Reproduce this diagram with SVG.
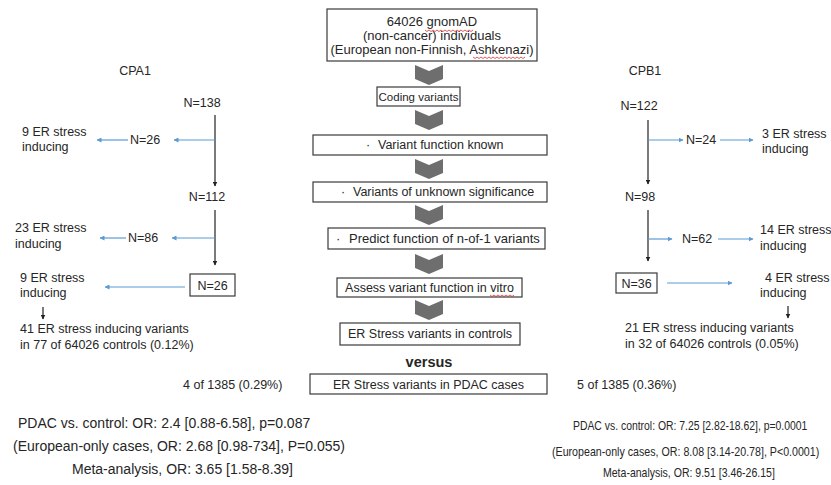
<svg xmlns="http://www.w3.org/2000/svg" width="831" height="485" viewBox="0 0 831 485">
<style>
text{font-family:"Liberation Sans",Arial,sans-serif;fill:#262626;font-size:12.5px}
.c{text-anchor:middle}
.box{fill:#fff;stroke:#3a3a3a;stroke-width:1.2}
.chev{fill:#6e6e6e}
.blk{stroke:#222;stroke-width:1.2;fill:none}
.blu{stroke:#5b9bd5;stroke-width:1.2;fill:none}
.big{font-size:14px}
.rs{font-size:13px}
.sq{stroke:#e03030;stroke-width:0.8;fill:none}
</style>
<defs>
<marker id="ab" viewBox="0 0 10 10" refX="9" refY="5" markerWidth="5" markerHeight="5" orient="auto" markerUnits="userSpaceOnUse"><path d="M0,0 L10,5 L0,10 z" fill="#222"/></marker>
<marker id="au" viewBox="0 0 10 10" refX="9" refY="5" markerWidth="5" markerHeight="5" orient="auto" markerUnits="userSpaceOnUse"><path d="M0,0 L10,5 L0,10 z" fill="#5b9bd5"/></marker>
<path id="chevron" d="M0,0 L14,6 L28,0 L28,14 L14,20 L0,14 z"/>
</defs>
<rect width="831" height="485" fill="#fff"/>

<g id="center-flow">
<g id="n-gnomad">
<rect class="box" x="327" y="9" width="210" height="52"/>
<text class="c" x="432" y="26" style="font-size:13px">64026 gnomAD</text>
<text class="c" x="432" y="40" style="font-size:13px">(non-cancer) individuals</text>
<text class="c" x="432" y="54" style="font-size:13px">(European non-Finnish, Ashkenazi)</text>
<path class="sq" d="M425,30 l2,1.5 l2,-1.5 l2,1.5 l2,-1.5 l2,1.5 l2,-1.5 l2,1.5 l2,-1.5 l2,1.5 l2,-1.5 l2,1.5 l2,-1.5 l2,1.5 l2,-1.5 l2,1.5 l2,-1.5 l2,1.5 l2,-1.5 l2,1.5 l2,-1.5 l2,1.5 l2,-1.5 l2,1.5 l2,-1.5"/>
<path class="sq" d="M473,57 l2,1.5 l2,-1.5 l2,1.5 l2,-1.5 l2,1.5 l2,-1.5 l2,1.5 l2,-1.5 l2,1.5 l2,-1.5 l2,1.5 l2,-1.5 l2,1.5 l2,-1.5 l2,1.5 l2,-1.5 l2,1.5 l2,-1.5 l2,1.5 l2,-1.5 l2,1.5 l2,-1.5 l2,1.5 l2,-1.5 l2,1.5 l2,-1.5"/>
</g>
<g id="n-coding">
<rect class="box" x="377" y="87" width="83" height="19"/>
<text class="c" x="418.5" y="101" style="font-size:11.5px">Coding variants</text>
</g>
<g id="n-known">
<rect class="box" x="313" y="135" width="234" height="20"/>
<text y="149"><tspan x="366">·</tspan><tspan x="378">Variant function known</tspan></text>
</g>
<g id="n-vus">
<rect class="box" x="313" y="182" width="234" height="20"/>
<text y="196"><tspan x="341">·</tspan><tspan x="353">Variants of unknown significance</tspan></text>
</g>
<g id="n-predict">
<rect class="box" x="328" y="228" width="217" height="21"/>
<text y="243" style="font-size:13px"><tspan x="336">·</tspan><tspan x="349">Predict function of n-of-1 variants</tspan></text>
</g>
<g id="n-assess">
<rect class="box" x="337" y="278" width="185" height="19"/>
<text class="c" x="429.5" y="292">Assess variant function in vitro</text>
<path class="sq" d="M490,295 l2,1.5 l2,-1.5 l2,1.5 l2,-1.5 l2,1.5 l2,-1.5 l2,1.5 l2,-1.5 l2,1.5 l2,-1.5 l2,1.5 l2,-1.5"/>
</g>
<g id="n-controls">
<rect class="box" x="340" y="323" width="180" height="22"/>
<text class="c" x="430" y="338">ER Stress variants in controls</text>
</g>
<g id="n-versus">
<text class="c" x="429" y="367" style="font-size:14.5px;font-weight:bold">versus</text>
</g>
<g id="n-pdac">
<rect class="box" x="310" y="374" width="237" height="20"/>
<text class="c" x="428.5" y="389">ER Stress variants in PDAC cases</text>
</g>
</g>

<g id="chevrons">
<use href="#chevron" class="chev" x="415" y="65"/>
<use href="#chevron" class="chev" x="415" y="110"/>
<use href="#chevron" class="chev" x="415" y="159"/>
<use href="#chevron" class="chev" x="415" y="205"/>
<use href="#chevron" class="chev" x="415" y="254"/>
<use href="#chevron" class="chev" x="415" y="300"/>
</g>

<g id="cpa1">
<text id="t-cpa1" class="c" x="135" y="75">CPA1</text>
<text id="t-n138" class="c" x="202" y="107">N=138</text>
<text id="t-n26a" x="130" y="144">N=26</text>
<text id="t-9a" x="22"><tspan x="22" y="136">9 ER stress</tspan><tspan x="22" y="151">inducing</tspan></text>
<text id="t-n112" class="c" x="207" y="201">N=112</text>
<text id="t-n86" x="128" y="242">N=86</text>
<text id="t-23" x="15"><tspan x="15" y="232">23 ER stress</tspan><tspan x="15" y="248">inducing</tspan></text>
<g id="n-n26b">
<rect class="box" x="190" y="274" width="45" height="22"/>
<text class="c" x="212.5" y="290">N=26</text>
</g>
<text id="t-9b" x="20"><tspan x="20" y="282">9 ER stress</tspan><tspan x="20" y="297">inducing</tspan></text>
<text id="t-41" x="20"><tspan x="20" y="333">41 ER stress inducing variants</tspan><tspan x="20" y="349">in 77 of 64026 controls (0.12%)</tspan></text>
<text id="t-4of" x="183" y="389">4 of 1385 (0.29%)</text>
</g>

<g id="cpb1">
<text id="t-cpb1" class="c" x="645" y="75">CPB1</text>
<text id="t-n122" class="c" x="639" y="110">N=122</text>
<text id="t-n24" x="686" y="144">N=24</text>
<text id="t-3" x="762"><tspan x="762" y="138">3 ER stress</tspan><tspan x="762" y="153">inducing</tspan></text>
<text id="t-n98" class="c" x="640" y="201">N=98</text>
<text id="t-n62" x="682" y="243">N=62</text>
<text id="t-14" x="760"><tspan x="760" y="234">14 ER stress</tspan><tspan x="760" y="250">inducing</tspan></text>
<g id="n-n36">
<rect class="box" x="616" y="273" width="41" height="20"/>
<text class="c" x="636.5" y="288">N=36</text>
</g>
<text id="t-4b" x="765"><tspan x="765" y="282">4 ER stress</tspan><tspan x="760" y="297">inducing</tspan></text>
<text id="t-21" x="625"><tspan x="625" y="332">21 ER stress inducing variants</tspan><tspan x="625" y="348">in 32 of 64026 controls (0.05%)</tspan></text>
<text id="t-5of" x="577" y="389">5 of 1385 (0.36%)</text>
</g>

<g id="connectors">
<line class="blk" x1="215" y1="115" x2="215" y2="186" marker-end="url(#ab)"/>
<line class="blu" x1="215" y1="140" x2="174" y2="140" marker-end="url(#au)"/>
<line class="blu" x1="128" y1="140" x2="97" y2="140" marker-end="url(#au)"/>
<line class="blk" x1="215" y1="210" x2="215" y2="265" marker-end="url(#ab)"/>
<line class="blu" x1="215" y1="238" x2="172" y2="238" marker-end="url(#au)"/>
<line class="blu" x1="126" y1="238" x2="100" y2="238" marker-end="url(#au)"/>
<line class="blu" x1="185" y1="287" x2="105" y2="287" marker-end="url(#au)"/>
<line class="blk" x1="43" y1="307" x2="43" y2="319" marker-end="url(#ab)"/>
<line class="blk" x1="648" y1="120" x2="648" y2="184" marker-end="url(#ab)"/>
<line class="blu" x1="648" y1="140" x2="683" y2="140" marker-end="url(#au)"/>
<line class="blu" x1="720" y1="140" x2="753" y2="140" marker-end="url(#au)"/>
<line class="blk" x1="648" y1="210" x2="648" y2="261" marker-end="url(#ab)"/>
<line class="blu" x1="648" y1="239" x2="672" y2="239" marker-end="url(#au)"/>
<line class="blu" x1="718" y1="239" x2="753" y2="239" marker-end="url(#au)"/>
<line class="blu" x1="667" y1="283" x2="732" y2="283" marker-end="url(#au)"/>
<line class="blk" x1="788" y1="306" x2="788" y2="318" marker-end="url(#ab)"/>
</g>

<g id="stats-cpa1">
<text class="big" x="18" y="428">PDAC vs. control: OR: 2.4 [0.88-6.58], p=0.087</text>
<text class="big" x="13" y="451">(European-only cases, OR: 2.68 [0.98-734], P=0.055)</text>
<text class="big" x="72" y="474">Meta-analysis, OR: 3.65 [1.58-8.39]</text>
</g>
<g id="stats-cpb1">
<text class="rs" transform="translate(573,430) scale(0.8,1)" x="0" y="0">PDAC vs. control: OR: 7.25 [2.82-18.62], p=0.0001</text>
<text class="rs" transform="translate(552,456) scale(0.82,1)" x="0" y="0">(European-only cases, OR: 8.08 [3.14-20.78], P&lt;0.0001)</text>
<text class="rs" transform="translate(603,477) scale(0.81,1)" x="0" y="0">Meta-analysis, OR: 9.51 [3.46-26.15]</text>
</g>
</svg>
